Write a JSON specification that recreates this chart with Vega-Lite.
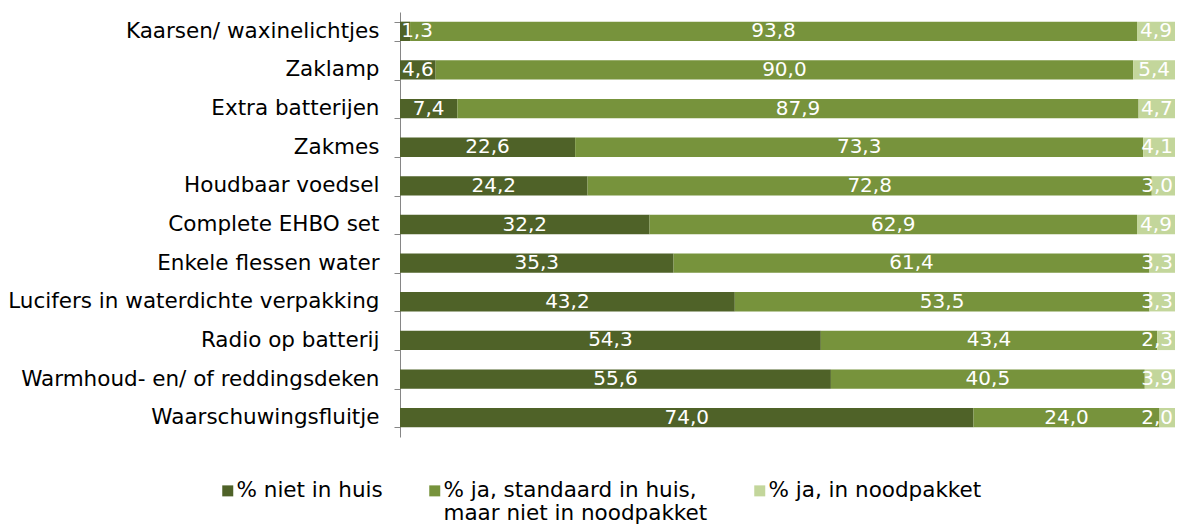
{
  "$schema": "https://vega.github.io/schema/vega-lite/v6.json",
  "width": 775,
  "height": 425,
  "autosize": {"type": "none"},
  "padding": {"left": 400, "top": 12, "right": 9, "bottom": 88},
  "background": "white",
  "config": {"view": {"stroke": null}},
  "data": {
    "values": [
      {"item": "Kaarsen/ waxinelichtjes", "serie": "% niet in huis", "value": 1.3},
      {"item": "Kaarsen/ waxinelichtjes", "serie": "% ja, standaard in huis, maar niet in noodpakket", "value": 93.8},
      {"item": "Kaarsen/ waxinelichtjes", "serie": "% ja, in noodpakket", "value": 4.9},
      {"item": "Zaklamp", "serie": "% niet in huis", "value": 4.6},
      {"item": "Zaklamp", "serie": "% ja, standaard in huis, maar niet in noodpakket", "value": 90.0},
      {"item": "Zaklamp", "serie": "% ja, in noodpakket", "value": 5.4},
      {"item": "Extra batterijen", "serie": "% niet in huis", "value": 7.4},
      {"item": "Extra batterijen", "serie": "% ja, standaard in huis, maar niet in noodpakket", "value": 87.9},
      {"item": "Extra batterijen", "serie": "% ja, in noodpakket", "value": 4.7},
      {"item": "Zakmes", "serie": "% niet in huis", "value": 22.6},
      {"item": "Zakmes", "serie": "% ja, standaard in huis, maar niet in noodpakket", "value": 73.3},
      {"item": "Zakmes", "serie": "% ja, in noodpakket", "value": 4.1},
      {"item": "Houdbaar voedsel", "serie": "% niet in huis", "value": 24.2},
      {"item": "Houdbaar voedsel", "serie": "% ja, standaard in huis, maar niet in noodpakket", "value": 72.8},
      {"item": "Houdbaar voedsel", "serie": "% ja, in noodpakket", "value": 3.0},
      {"item": "Complete EHBO set", "serie": "% niet in huis", "value": 32.2},
      {"item": "Complete EHBO set", "serie": "% ja, standaard in huis, maar niet in noodpakket", "value": 62.9},
      {"item": "Complete EHBO set", "serie": "% ja, in noodpakket", "value": 4.9},
      {"item": "Enkele flessen water", "serie": "% niet in huis", "value": 35.3},
      {"item": "Enkele flessen water", "serie": "% ja, standaard in huis, maar niet in noodpakket", "value": 61.4},
      {"item": "Enkele flessen water", "serie": "% ja, in noodpakket", "value": 3.3},
      {"item": "Lucifers in waterdichte verpakking", "serie": "% niet in huis", "value": 43.2},
      {"item": "Lucifers in waterdichte verpakking", "serie": "% ja, standaard in huis, maar niet in noodpakket", "value": 53.5},
      {"item": "Lucifers in waterdichte verpakking", "serie": "% ja, in noodpakket", "value": 3.3},
      {"item": "Radio op batterij", "serie": "% niet in huis", "value": 54.3},
      {"item": "Radio op batterij", "serie": "% ja, standaard in huis, maar niet in noodpakket", "value": 43.4},
      {"item": "Radio op batterij", "serie": "% ja, in noodpakket", "value": 2.3},
      {"item": "Warmhoud- en/ of reddingsdeken", "serie": "% niet in huis", "value": 55.6},
      {"item": "Warmhoud- en/ of reddingsdeken", "serie": "% ja, standaard in huis, maar niet in noodpakket", "value": 40.5},
      {"item": "Warmhoud- en/ of reddingsdeken", "serie": "% ja, in noodpakket", "value": 3.9},
      {"item": "Waarschuwingsfluitje", "serie": "% niet in huis", "value": 74.0},
      {"item": "Waarschuwingsfluitje", "serie": "% ja, standaard in huis, maar niet in noodpakket", "value": 24.0},
      {"item": "Waarschuwingsfluitje", "serie": "% ja, in noodpakket", "value": 2.0}
    ]
  },
  "transform": [
    {"calculate": "indexof(['% niet in huis', '% ja, standaard in huis, maar niet in noodpakket', '% ja, in noodpakket'], datum.serie)", "as": "k"},
    {"stack": "value", "groupby": ["item"], "sort": [{"field": "k", "order": "ascending"}], "as": ["v0", "v1"]},
    {"calculate": "min(max((datum.v0 + datum.v1) / 2, 2.2), 97.7)", "as": "mid"},
    {"calculate": "replace(format(datum.value, '.1f'), '.', ',')", "as": "lbl"}
  ],
  "encoding": {
    "y": {
      "field": "item",
      "type": "nominal",
      "sort": ["Kaarsen/ waxinelichtjes", "Zaklamp", "Extra batterijen", "Zakmes", "Houdbaar voedsel", "Complete EHBO set", "Enkele flessen water", "Lucifers in waterdichte verpakking", "Radio op batterij", "Warmhoud- en/ of reddingsdeken", "Waarschuwingsfluitje"],
      "scale": {"paddingInner": 0.5, "paddingOuter": 0.25},
      "axis": {
        "title": null,
        "grid": false,
        "domainColor": "#868686",
        "tickColor": "#868686",
        "tickSize": 6,
        "tickBand": "extent",
        "labelFont": "DejaVu Sans",
        "labelFontSize": 21.5,
        "labelColor": "black",
        "labelPadding": 15,
        "labelLimit": 0,
        "labelExpr": "datum.label == 'Houdbaar voedsel' ? 'Houdbaar voedsel\u00a0' : datum.label"
      }
    }
  },
  "layer": [
    {
      "mark": {"type": "bar"},
      "encoding": {
        "x": {"field": "v0", "type": "quantitative", "scale": {"domain": [0, 100], "nice": false}, "axis": null},
        "x2": {"field": "v1"},
        "color": {
          "field": "serie",
          "type": "nominal",
          "scale": {
            "domain": ["% niet in huis", "% ja, standaard in huis, maar niet in noodpakket", "% ja, in noodpakket"],
            "range": ["#4F6228", "#77933C", "#C3D69B"]
          },
          "legend": {
            "title": null,
            "orient": "none",
            "legendX": -183,
            "legendY": 468,
            "direction": "horizontal",
            "columns": 3,
            "columnPadding": 41,
            "symbolType": "square",
            "symbolSize": 121,
            "symbolStrokeWidth": 0,
            "symbolOpacity": 1,
            "labelFont": "DejaVu Sans",
            "labelFontSize": 21.5,
            "labelColor": "black",
            "labelOffset": -2,
            "labelLimit": 0,
            "labelExpr": "datum.label == '% ja, standaard in huis, maar niet in noodpakket' ? ['% ja, standaard in huis,\u00a0\u00a0\u00a0\u00a0\u00a0\u00a0', 'maar niet in noodpakket'] : [datum.label, '']"
          }
        }
      }
    },
    {
      "mark": {"type": "text", "color": "white", "font": "DejaVu Sans", "fontSize": 20},
      "encoding": {
        "x": {"field": "mid", "type": "quantitative"},
        "text": {"field": "lbl"}
      }
    }
  ]
}
